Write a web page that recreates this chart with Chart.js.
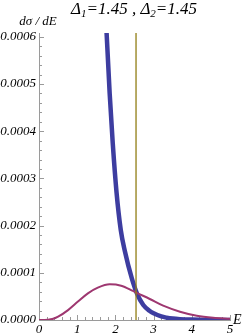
<!DOCTYPE html>
<html>
<head>
<meta charset="utf-8">
<script src="https://cdn.jsdelivr.net/npm/chart.js@4.4.1/dist/chart.umd.min.js"></script>
<style>
  html, body { margin: 0; padding: 0; background: #fff; }
  #wrap { width: 245px; height: 336px; position: relative; }
</style>
</head>
<body>
<div id="wrap"><canvas id="c" width="245" height="336"></canvas></div>
<script>
// ---- data ----
const titleParts = [["Δ", "1", "=1.45 , "], ["Δ", "2", "=1.45"]];
const yAxisTitle = "dσ / dE";
const xAxisTitle = "E";

const xTicks = [0, 1, 2, 3, 4, 5];
const yTicks = [0, 0.0001, 0.0002, 0.0003, 0.0004, 0.0005, 0.0006];

const blueE = [1.72, 1.77, 1.85, 1.93, 2.03, 2.14, 2.25, 2.43, 2.56, 2.73, 2.90, 3.00, 3.20, 3.34, 3.50, 3.69, 4.00, 4.50, 5.00];
const blueV = [0.00070, 0.000607, 0.000480, 0.000375, 0.000270, 0.000191, 0.000145, 0.000088, 0.000057, 0.0000318, 0.0000190, 0.0000142, 0.0000075, 0.0000049, 0.0000030, 0.0000018, 0.0000008, 0.0000002, 0.0000001];

const pinkE = [0, 0.12, 0.24, 0.35, 0.5, 0.76, 1.02, 1.28, 1.54, 1.85, 2.15, 2.46, 2.56, 2.9, 3.25, 3.69, 4.13, 4.56, 5.0];
const pinkV = [0, 0.0000001, 0.0000005, 0.000002, 0.000007, 0.000021, 0.000039, 0.0000565, 0.0000685, 0.0000756, 0.0000727, 0.0000615, 0.0000575, 0.0000445, 0.0000303, 0.0000176, 0.0000091, 0.0000049, 0.0000028];

const vLineX = 2.54;

const X_MIN = 0, X_MAX = 5, Y_MIN = 0, Y_MAX = 0.000608;

// ---- build ----
const toPts = (xs, ys) => xs.map((x, i) => ({ x: x, y: ys[i] }));
const SERIF = "'Liberation Serif', 'DejaVu Serif', serif";
const AXIS_COLOR = '#9a9a9a';

const ticksPlugin = {
  id: 'mmaTicks',
  beforeDatasetsDraw(chart) {
    const ctx = chart.ctx;
    const xs = chart.scales.x, ys = chart.scales.y;
    const a = chart.chartArea;
    ctx.save();
    ctx.strokeStyle = AXIS_COLOR;
    ctx.lineWidth = 1;
    for (let k = 0; k <= 30; k++) {
      const v = k * 0.00002;
      if (v > Y_MAX) break;
      const py = Math.round(ys.getPixelForValue(v)) + 0.5;
      const len = (k % 5 === 0) ? 5 : 3;
      ctx.beginPath(); ctx.moveTo(a.left, py); ctx.lineTo(a.left + len, py); ctx.stroke();
    }
    for (let k = 0; k <= 25; k++) {
      const v = k * 0.2;
      const px = Math.round(xs.getPixelForValue(v)) + 0.5;
      const len = (k % 5 === 0) ? 5 : 3;
      ctx.beginPath(); ctx.moveTo(px, a.bottom); ctx.lineTo(px, a.bottom - len); ctx.stroke();
    }
    ctx.restore();
  },
  afterDraw(chart) {
    const ctx = chart.ctx;
    const a = chart.chartArea;
    ctx.save();
    ctx.fillStyle = '#000';
    const big = "italic 17px " + SERIF, small = "italic 11px " + SERIF;
    let total = 0;
    titleParts.forEach(p => {
      ctx.font = big; total += ctx.measureText(p[0]).width + ctx.measureText(p[2]).width;
      ctx.font = small; total += ctx.measureText(p[1]).width;
    });
    let x = 134 - total / 2;
    const base = 14;
    ctx.textBaseline = 'alphabetic';
    ctx.textAlign = 'left';
    titleParts.forEach(p => {
      ctx.font = big; ctx.fillText(p[0], x, base); x += ctx.measureText(p[0]).width;
      ctx.font = small; ctx.fillText(p[1], x, base + 3); x += ctx.measureText(p[1]).width;
      ctx.font = big; ctx.fillText(p[2], x, base); x += ctx.measureText(p[2]).width;
    });
    ctx.font = "italic 13px " + SERIF;
    ctx.textAlign = 'center';
    ctx.textBaseline = 'middle';
    ctx.fillText(yAxisTitle, 38, 22);
    ctx.font = "italic 14px " + SERIF;
    ctx.textAlign = 'left';
    ctx.fillText(xAxisTitle, a.right + 3, a.bottom);
    ctx.restore();
  }
};

new Chart(document.getElementById('c'), {
  type: 'scatter',
  data: {
    datasets: [
      {
        label: 'blue', data: toPts(blueE, blueV), showLine: true,
        borderColor: 'rgb(61,61,160)', borderWidth: 4.5, pointRadius: 0,
        cubicInterpolationMode: 'monotone', clip: 0, order: 2
      },
      {
        label: 'pink', data: toPts(pinkE, pinkV), showLine: true,
        borderColor: 'rgb(158,55,112)', borderWidth: 2, pointRadius: 0,
        cubicInterpolationMode: 'monotone', clip: 0, order: 1
      },
      {
        label: 'vline', data: [{ x: vLineX, y: Y_MIN }, { x: vLineX, y: Y_MAX }], showLine: true,
        borderColor: 'rgb(145,125,20)', borderWidth: 1.3, pointRadius: 0, clip: 0, order: 0
      }
    ]
  },
  options: {
    responsive: false,
    animation: false,
    events: [],
    layout: { padding: { top: 33, right: 15, left: 0, bottom: 0 } },
    plugins: { legend: { display: false }, tooltip: { enabled: false }, title: { display: false } },
    scales: {
      x: {
        type: 'linear', min: X_MIN, max: X_MAX,
        afterBuildTicks: s => { s.ticks = xTicks.map(v => ({ value: v })); },
        afterFit: s => { s.height = 16; },
        grid: { display: false, drawTicks: false },
        border: { display: true, color: AXIS_COLOR, width: 1 },
        ticks: { color: '#000', padding: 2, maxRotation: 0, font: { family: SERIF, style: 'italic', size: 13 },
                 callback: v => String(v) }
      },
      y: {
        type: 'linear', min: Y_MIN, max: Y_MAX,
        afterBuildTicks: s => { s.ticks = yTicks.map(v => ({ value: v })); },
        afterFit: s => { s.width = 39; },
        grid: { display: false, drawTicks: false },
        border: { display: true, color: AXIS_COLOR, width: 1 },
        ticks: { color: '#000', padding: 3, font: { family: SERIF, style: 'italic', size: 13 },
                 callback: v => Number(v).toFixed(4) }
      }
    }
  },
  plugins: [ticksPlugin]
});
</script>
</body>
</html>
